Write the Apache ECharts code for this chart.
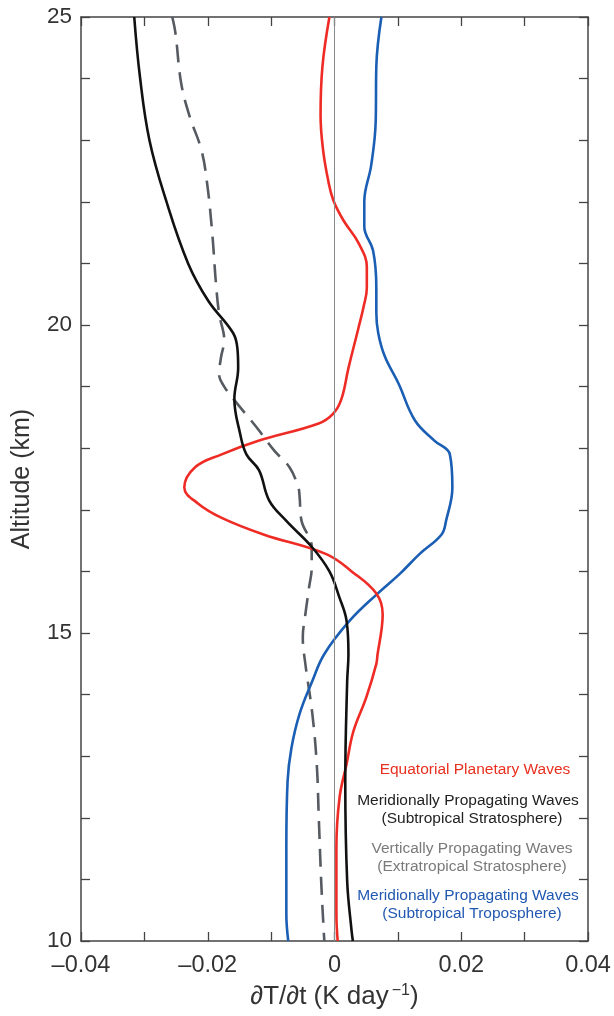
<!DOCTYPE html>
<html>
<head>
<meta charset="utf-8">
<script src="https://cdn.jsdelivr.net/npm/echarts@6/dist/echarts.min.js"></script>
<style>
  html, body { margin: 0; padding: 0; background: #fff; }
  #main { width: 614px; height: 1016px; }
</style>
</head>
<body>
<div id="main"></div>
<script>
// altitude (km) and heating rate (K/day)
var redAlt = [25, 24.2, 23.4, 22.84, 22.35, 22.03, 21.7, 21.33, 20.94, 20.6, 20.3, 19.96, 19.3, 18.8, 18.56, 18.4, 18.12, 17.9, 17.69, 17.36, 17.1, 16.87, 16.6, 16.28, 16.0, 15.64, 15.3, 15.04, 14.66, 14.5, 13.95, 13.41, 12.87, 12.33, 11.52, 10.44, 10];
var redVal = [-0.0008, -0.0019, -0.0022, -0.0018, -0.001, -0.0002, 0.0014, 0.0038, 0.0051, 0.0051, 0.0046, 0.0038, 0.0022, 0.0011, -0.0002, -0.0025, -0.012, -0.0178, -0.022, -0.0237, -0.0215, -0.0178, -0.0112, -0.0013, 0.0027, 0.0066, 0.0076, 0.0074, 0.0068, 0.0066, 0.005, 0.003, 0.0019, 0.0008, 0.0003, 0.0003, 0.0005];

var blackAlt = [25, 24.03, 23.0, 22.03, 21.0, 20.39, 19.87, 19.6, 19.3, 18.8, 18.24, 17.9, 17.64, 17.15, 16.82, 16.4, 16.0, 15.57, 15.2, 14.66, 14.22, 12.6, 10.97, 10.16, 10];
var blackVal = [-0.0316, -0.0307, -0.0292, -0.0266, -0.0231, -0.0199, -0.016, -0.0153, -0.0152, -0.0158, -0.0149, -0.0139, -0.0119, -0.0103, -0.0076, -0.0036, -0.0008, 0.0008, 0.0019, 0.0022, 0.002, 0.0017, 0.002, 0.0027, 0.0029];

var dashAlt = [25, 24.74, 23.93, 23.4, 22.84, 22.3, 21.5, 20.67, 20.18, 19.75, 19.48, 19.2, 19.0, 18.78, 18.34, 17.96, 17.69, 17.36, 17.2, 16.82, 16.4, 16.06, 15.75, 15.3, 14.93, 14.5, 13.69, 12.87, 12.06, 10.97, 10.16, 10];
var dashVal = [-0.0256, -0.0251, -0.0242, -0.0229, -0.021, -0.0201, -0.0193, -0.0187, -0.0182, -0.0174, -0.0179, -0.0182, -0.0174, -0.0158, -0.0123, -0.0095, -0.0071, -0.0057, -0.0055, -0.0052, -0.0036, -0.0036, -0.004, -0.0046, -0.005, -0.0046, -0.0035, -0.0028, -0.0025, -0.0021, -0.0017, -0.0016];

var blueAlt = [25, 24.2, 23.3, 22.6, 22.0, 21.6, 21.2, 20.6, 20.2, 19.87, 19.5, 19.05, 18.45, 18.12, 17.9, 17.36, 16.82, 16.6, 16.28, 15.96, 15.64, 15.2, 14.66, 14.22, 13.69, 13.13, 12.6, 11.52, 10.44, 10];
var blueVal = [0.0074, 0.0066, 0.0065, 0.0058, 0.0047, 0.0047, 0.0061, 0.0066, 0.0066, 0.0069, 0.0079, 0.0101, 0.0127, 0.0158, 0.0182, 0.0186, 0.0176, 0.0169, 0.0134, 0.0103, 0.0068, 0.0024, -0.0016, -0.0035, -0.0055, -0.0068, -0.0074, -0.0076, -0.0076, -0.0073];

var xTicks = [-0.04, -0.02, 0, 0.02, 0.04];
var yTicks = [10, 15, 20, 25];

function pairs(vals, alts) {
  return vals.map(function (v, i) { return [v, alts[i]]; });
}

var myChart = echarts.init(document.getElementById('main'));
var font = '"Liberation Sans", Arial, Helvetica, sans-serif';
var axisColor = '#444';

function xLabel(v) {
  var k = Math.round(v * 100);
  if (xTicks.indexOf(k / 100) < 0) return '';
  if (k === 0) return '0';
  return (k < 0 ? '\u2013' : '') + (Math.abs(k) / 100).toFixed(2);
}
function yLabel(v) {
  return yTicks.indexOf(v) >= 0 ? String(v) : '';
}

var baseX = {
  type: 'value', min: -0.04, max: 0.04, interval: 0.01,
  axisLine: { onZero: false, lineStyle: { color: axisColor, width: 1.5 } },
  axisTick: { inside: true, length: 9, lineStyle: { color: axisColor, width: 1.3 } },
  splitLine: { show: false }
};
var baseY = {
  type: 'value', min: 10, max: 25, interval: 1,
  axisLine: { onZero: false, lineStyle: { color: axisColor, width: 1.5 } },
  axisTick: { inside: true, length: 9, lineStyle: { color: axisColor, width: 1.3 } },
  splitLine: { show: false }
};

var legendFont = '15.5px ' + font;
function note(text, x, y, color) {
  return { type: 'text', x: x, y: y, style: { text: text, fill: color, font: legendFont, textAlign: 'center', textVerticalAlign: 'middle' } };
}

var option = {
  animation: false,
  backgroundColor: '#fff',
  grid: { left: 81, right: 26, top: 17, bottom: 75 },
  xAxis: [
    Object.assign({}, baseX, {
      position: 'bottom',
      axisLabel: { formatter: xLabel, fontSize: 23.5, color: '#333', fontFamily: font, margin: 13 },
      name: '\u2202T/\u2202t (K day{sup|\u22121})',
      nameLocation: 'middle', nameGap: 38,
      nameTextStyle: {
        fontSize: 26, color: '#333', fontFamily: font,
        rich: { sup: { fontSize: 16, color: '#333', fontFamily: font, verticalAlign: 'top', padding: [0, 0, 12, 3] } }
      }
    }),
    Object.assign({}, baseX, { position: 'top', axisLabel: { show: false } })
  ],
  yAxis: [
    Object.assign({}, baseY, {
      position: 'left',
      axisLabel: { formatter: yLabel, fontSize: 22.5, color: '#333', fontFamily: font, margin: 9 },
      name: 'Altitude (km)', nameLocation: 'middle', nameGap: 46, nameRotate: 90,
      nameTextStyle: { fontSize: 25, color: '#333', fontFamily: font }
    }),
    Object.assign({}, baseY, { position: 'right', axisLabel: { show: false } })
  ],
  series: [
    {
      name: 'Vertically Propagating Waves', type: 'line', data: pairs(dashVal, dashAlt),
      showSymbol: false, smooth: 0.4,
      lineStyle: { color: '#565b61', width: 2.6, type: [18, 10] }
    },
    {
      name: 'Meridionally Propagating Waves (Troposphere)', type: 'line', data: pairs(blueVal, blueAlt),
      showSymbol: false, smooth: 0.4,
      lineStyle: { color: '#1b5fb4', width: 2.6 }
    },
    {
      name: 'Equatorial Planetary Waves', type: 'line', data: pairs(redVal, redAlt),
      showSymbol: false, smooth: 0.4,
      lineStyle: { color: '#ee2b24', width: 2.6 },
      markLine: {
        silent: true, symbol: 'none', label: { show: false },
        lineStyle: { color: '#8a8a8a', width: 1, type: 'solid' },
        data: [{ xAxis: 0 }]
      }
    },
    {
      name: 'Meridionally Propagating Waves (Stratosphere)', type: 'line', data: pairs(blackVal, blackAlt),
      showSymbol: false, smooth: 0.4,
      lineStyle: { color: '#111', width: 2.6 }
    }
  ],
  graphic: [
    note('Equatorial Planetary Waves', 475, 770, '#e8301f'),
    note('Meridionally Propagating Waves', 468, 801, '#222'),
    note('(Subtropical Stratosphere)', 472, 819, '#222'),
    note('Vertically Propagating Waves', 472, 849, '#7a7a7a'),
    note('(Extratropical Stratosphere)', 472, 867, '#7a7a7a'),
    note('Meridionally Propagating Waves', 468, 896, '#2158b0'),
    note('(Subtropical Troposphere)', 472, 914, '#2158b0')
  ]
};

myChart.setOption(option);
</script>
</body>
</html>
